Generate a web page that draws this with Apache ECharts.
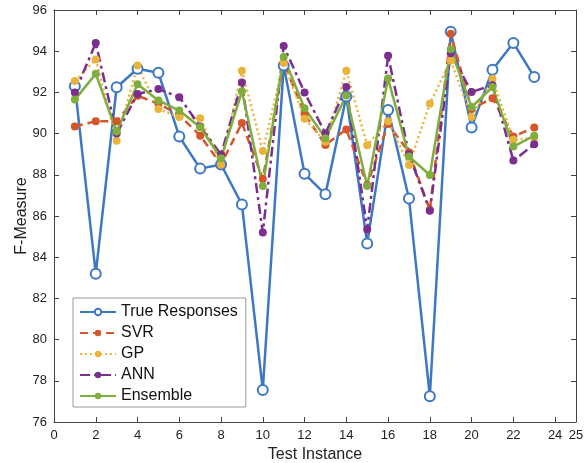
<!DOCTYPE html>
<html>
<head>
<meta charset="utf-8">
<script src="https://cdn.jsdelivr.net/npm/echarts@6/dist/echarts.min.js"></script>
<style>html,body{margin:0;padding:0;background:#fff}#c{width:584px;height:463px}</style>
</head>
<body>
<div id="c"></div>
<script>
const instances = [1,2,3,4,5,6,7,8,9,10,11,12,13,14,15,16,17,18,19,20,21,22,23];
const trueResp = [92.3,83.2,92.25,93.15,92.95,89.86,88.3,88.5,86.56,77.55,93.3,88.05,87.05,91.8,84.67,91.15,86.85,77.25,94.95,90.3,93.1,94.4,92.75];
const svr = [90.35,90.6,90.6,91.84,91.45,90.9,89.9,88.5,90.52,87.8,93.45,90.95,89.45,90.2,87.5,90.47,89.1,86.3,94.85,91.2,91.72,89.86,90.3];
const gp = [92.55,93.6,89.65,93.3,91.19,90.8,90.75,88.5,93.05,89.16,93.45,90.72,89.6,93.05,89.44,90.6,88.48,91.45,93.55,90.8,92.66,89.7,89.8];
const ann = [92.0,94.4,90.0,91.92,92.16,91.77,90.35,88.98,92.48,85.2,94.25,92.0,90.0,92.26,85.35,93.78,89.0,86.25,93.9,92.02,92.35,88.69,89.48];
const ensemble = [91.65,92.9,90.1,92.4,91.61,91.12,90.31,88.8,92.05,87.46,93.72,91.23,89.78,91.85,87.46,92.68,88.89,87.99,94.1,91.29,92.26,89.37,89.9];

const pairs = arr => instances.map((x,i)=>[x,arr[i]]);
const FONT = 'Liberation Sans, Arial, sans-serif';
const axisCol = '#444';

const chart = echarts.init(document.getElementById('c'), null, {renderer:'canvas'});
const baseAxis = {
  axisLine:{show:true,onZero:false,lineStyle:{color:axisCol,width:1}},
  axisTick:{show:true,inside:true,length:5,lineStyle:{color:axisCol}},
  splitLine:{show:false}
};
function mk(name, data, color, type, symbol, size){
  return {
    name, type:'line', data:pairs(data), xAxisIndex:0, yAxisIndex:0,
    symbol, symbolSize:size, showAllSymbol:true,
    lineStyle:{color, width:2.5, type},
    itemStyle:{color:color, borderColor:color, borderWidth: symbol==='emptyCircle'?2.2:0},
    emphasis:{disabled:true}, animation:false
  };
}
chart.setOption({
  animation:false,
  grid:{left:54,right:8,top:10,bottom:41,containLabel:false,outerBoundsMode:'none'},
  xAxis:[
    Object.assign({}, baseAxis, {type:'value',min:0,max:25,interval:2,position:'bottom',
      name:'Test Instance',nameLocation:'middle',nameGap:25,nameMoveOverlap:false,
      nameTextStyle:{fontFamily:FONT,fontSize:16,color:'#222'},
      axisLabel:{fontFamily:FONT,fontSize:13,color:'#222',margin:7,interval:0,showMaxLabel:true}}),
    Object.assign({}, baseAxis, {type:'value',min:0,max:25,interval:2,position:'top',axisLabel:{show:false}})
  ],
  yAxis:[
    Object.assign({}, baseAxis, {type:'value',min:76,max:96,interval:2,position:'left',
      name:'F-Measure',nameLocation:'middle',nameGap:24,nameRotate:90,nameMoveOverlap:false,
      nameTextStyle:{fontFamily:FONT,fontSize:16,color:'#222'},
      axisLabel:{fontFamily:FONT,fontSize:13,color:'#222',margin:7}}),
    Object.assign({}, baseAxis, {type:'value',min:76,max:96,interval:2,position:'right',axisLabel:{show:false}})
  ],
  legend:{
    orient:'vertical', left:73, top:298, width:173,
    backgroundColor:'#fff', borderColor:'#999', borderWidth:1,
    padding:[5,8,2,6], itemGap:3, itemWidth:36, itemHeight:8,
    textStyle:{fontFamily:FONT,fontSize:16,color:'#111',lineHeight:18},
    data:['True Responses','SVR','GP','ANN','Ensemble']
  },
  series:[
    mk('True Responses', trueResp, '#3d78c3', 'solid', 'emptyCircle', 10),
    mk('SVR', svr, '#d4562b', [8,5], 'circle', 8),
    mk('GP', gp, '#e9b43c', [2,3], 'circle', 8),
    mk('ANN', ann, '#7a2e8e', [10,4,3,4], 'circle', 8),
    mk('Ensemble', ensemble, '#7fae3f', 'solid', 'circle', 8)
  ]
});
</script>
</body>
</html>
